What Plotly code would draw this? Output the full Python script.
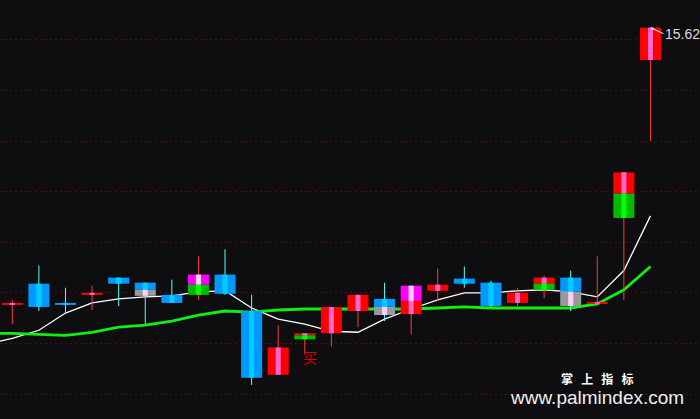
import plotly.graph_objects as go

# ---- data ----
idx = list(range(1, 26))
opens  = [12.88, 13.09, 12.90, 12.98, 13.15, 13.10, 12.98, 12.98, 13.18, 12.82, 12.19, 12.54, 12.60,
          12.82, 12.94, 12.79, 13.02, 13.14, 13.10, 12.90, 13.03, 13.15, 12.89, 13.74, 15.30]
closes = [12.90, 12.86, 12.88, 13.00, 13.09, 12.97, 12.90, 13.18, 12.99, 12.16, 12.46, 12.60, 12.86,
          12.98, 12.78, 13.07, 13.08, 13.09, 12.87, 13.00, 13.15, 12.87, 12.91, 14.19, 15.62]
highs  = [12.93, 13.27, 13.05, 13.07, 13.15, 13.10, 13.13, 13.36, 13.43, 12.98, 12.68, 12.60, 12.86,
          12.98, 13.10, 13.07, 13.24, 13.26, 13.12, 13.05, 13.17, 13.22, 13.36, 14.19, 15.62]
lows   = [12.69, 12.82, 12.79, 12.83, 12.87, 12.69, 12.90, 12.93, 12.98, 12.09, 12.19, 12.39, 12.47,
          12.66, 12.72, 12.59, 12.92, 13.05, 12.86, 12.87, 12.95, 12.82, 12.89, 12.93, 14.50]
split  = [None, None, None, None, None, 13.03, None, 13.08, None, None, None, 12.58, None,
          None, 12.86, 12.92, None, None, None, None, 13.09, 13.01, None, 13.98, None]
upper_kind = ["red", "blue", "blue", "red", "blue", "blue", "blue", "magenta", "blue", "blue", "red", "red", "red",
              "red", "blue", "magenta", "red", "blue", "blue", "red", "red", "blue", "red", "red", "red"]
lower_kind = ["red", "blue", "blue", "red", "blue", "gray", "blue", "green", "blue", "blue", "red", "green", "red",
              "red", "gray", "red", "red", "blue", "blue", "red", "green", "gray", "red", "green", "red"]

ma_idx = list(range(0, 26))
ma_white = [12.49, 12.55, 12.63, 12.80, 12.90, 12.94, 12.96, 12.97, 13.01, 13.02, 12.85, 12.74, 12.69,
            12.62, 12.61, 12.74, 12.84, 12.93, 13.00, 13.00, 13.02, 13.03, 13.01, 12.96, 13.22, 13.76]
ma_green = [12.60, 12.60, 12.59, 12.58, 12.61, 12.66, 12.68, 12.72, 12.78, 12.82, 12.81, 12.83, 12.84,
            12.84, 12.84, 12.84, 12.84, 12.85, 12.86, 12.85, 12.85, 12.85, 12.85, 12.89, 13.03, 13.26]

max_label = "15.62"
buy_label = "买"
buy_index = 12
buy_price = 12.366

# ---- styles ----
OUTER = {"red": "#ff0000", "blue": "#0099ff", "magenta": "#ff00ff", "green": "#00bb00", "gray": "#999999"}
STRIPE = {"red": "#ff66cc", "blue": "#00ccff", "magenta": "#ffd4ff", "green": "#00ff00", "gray": "#ffccff"}
BG = "#0e0e11"

fig = go.Figure()

# MA lines (behind candles)
fig.add_trace(go.Scatter(x=ma_idx, y=ma_white, mode="lines", line=dict(color="#ffffff", width=1.3),
                         hoverinfo="skip", zorder=0))
fig.add_trace(go.Scatter(x=ma_idx, y=ma_green, mode="lines", line=dict(color="#11ee11", width=2.8),
                         hoverinfo="skip", zorder=0))

# wicks
wx_r, wy_r, wx_c, wy_c = [], [], [], []
for i, o, c, h, l in zip(idx, opens, closes, highs, lows):
    if c >= o:
        wx_r += [i, i, None]; wy_r += [h, l, None]
    else:
        wx_c += [i, i, None]; wy_c += [h, l, None]
fig.add_trace(go.Scatter(x=wx_r, y=wy_r, mode="lines", line=dict(color="#ff3b3b", width=1),
                         hoverinfo="skip", zorder=1))
fig.add_trace(go.Scatter(x=wx_c, y=wy_c, mode="lines", line=dict(color="#55ffff", width=1),
                         hoverinfo="skip", zorder=1))

# bodies
bx, bbase, bh, bcol = [], [], [], []
sx, sbase, sh, scol = [], [], [], []
for k, (i, o, c) in enumerate(zip(idx, opens, closes)):
    top, bot = max(o, c), min(o, c)
    segs = []
    if split[k] is None:
        segs.append((bot, top, upper_kind[k]))
    else:
        segs.append((split[k], top, upper_kind[k]))
        segs.append((bot, split[k], lower_kind[k]))
    for b0, t0, kind in segs:
        bx.append(i); bbase.append(b0); bh.append(t0 - b0); bcol.append(OUTER[kind])
        sx.append(i); sbase.append(b0); sh.append(t0 - b0); scol.append(STRIPE[kind])

fig.add_trace(go.Bar(x=bx, y=bh, base=bbase, width=0.79, marker=dict(color=bcol, line=dict(width=0)),
                     hoverinfo="skip", zorder=2))
fig.add_trace(go.Bar(x=sx, y=sh, base=sbase, width=0.19, marker=dict(color=scol, line=dict(width=0)),
                     hoverinfo="skip", zorder=3))

# annotations
fig.add_annotation(x=idx[-1], y=highs[-1], text=max_label, showarrow=True, ax=13, ay=6,
                   xanchor="left", arrowhead=2, arrowsize=0.6, arrowwidth=1, arrowcolor="#ffffff",
                   font=dict(color="#dcdcdc", size=14, family="Liberation Sans"))
fig.add_annotation(x=buy_index, y=buy_price, text=buy_label, showarrow=False, xshift=5,
                   font=dict(color="#dd0000", size=14, family="Noto Sans CJK SC"))
fig.add_annotation(xref="paper", yref="paper", x=597 / 700, y=1 - 378 / 419, xanchor="center", yanchor="middle",
                   text="<b>掌\u00a0\u00a0\u00a0上\u00a0\u00a0\u00a0指\u00a0\u00a0\u00a0标</b>", borderpad=0,
                   showarrow=False, font=dict(color="#ffffff", size=12, family="Noto Sans CJK SC"))
fig.add_annotation(xref="paper", yref="paper", x=597 / 700, y=1 - 397 / 419, xanchor="center", yanchor="middle",
                   text="www.palmindex.com", borderpad=0,
                   showarrow=False, font=dict(color="#eeeeee", size=19, family="Liberation Sans"))

fig.update_layout(
    width=700, height=419, margin=dict(l=0, r=0, t=0, b=0),
    paper_bgcolor=BG, plot_bgcolor=BG, showlegend=False, barmode="overlay",
    xaxis=dict(range=[0.5374, 26.863], showgrid=False, zeroline=False, showticklabels=False, fixedrange=True),
    yaxis=dict(range=[11.753, 15.8933], showgrid=True, gridcolor="#5a0808", griddash="2px,3px", gridwidth=1,
               tick0=12, dtick=0.5, zeroline=False, showticklabels=False, fixedrange=True),
)

fig.write_html("out.html", config={"displayModeBar": False},
               post_script="document.body.style.margin='0';document.body.style.background='#0e0e11';")
